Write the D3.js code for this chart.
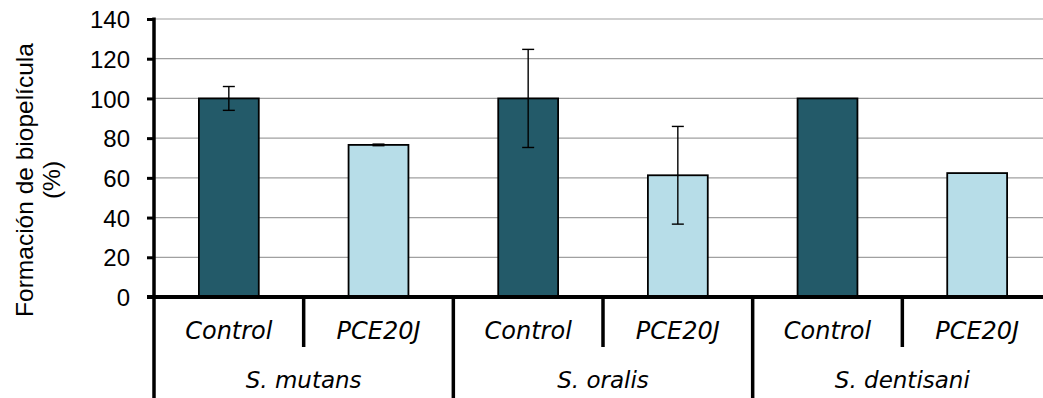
<!DOCTYPE html>
<html><head><meta charset="utf-8">
<script src="https://cdn.jsdelivr.net/npm/d3@7/dist/d3.min.js"></script>
<style>body{margin:0;background:#fff}svg{display:block}</style>
</head><body>
<script>
const species = ["S. mutans", "S. oralis", "S. dentisani"];
const treatments = ["Control", "PCE20J"];
const values = [100, 76.6, 100, 61.3, 100, 62.4];
const errors = [6, 0.4, 24.7, 24.6, 0, 0];
const yTicks = [0, 20, 40, 60, 80, 100, 120, 140];
const colors = ["#235a69", "#b7dde8"];

const W = 1043, H = 398;
const svg = d3.select("body").append("svg").attr("width", W).attr("height", H);
const x0 = 154, x1 = 1052;
const items = [];
species.forEach((s, i) => treatments.forEach((t, j) => items.push({s, t, i, j, k: i*2+j})));
const x = d3.scaleBand().domain(items.map(d => d.k)).range([x0, x1]).paddingInner(0).paddingOuter(0);
const y = d3.scaleLinear().domain([0, 140]).range([297, 19]);

// gridlines
svg.append("g").selectAll("line").data(yTicks.filter(v => v > 0)).join("line")
  .attr("x1", x0).attr("x2", x1).attr("y1", d => y(d)).attr("y2", d => y(d))
  .attr("stroke", "#a0a0a0").attr("stroke-width", 1.2);

// bars
const bw = x.bandwidth() * 0.4;
svg.append("g").selectAll("rect").data(items).join("rect")
  .attr("x", d => x(d.k) + (x.bandwidth() - bw) / 2)
  .attr("width", bw)
  .attr("y", d => y(values[d.k]))
  .attr("height", d => y(0) - y(values[d.k]))
  .attr("fill", d => colors[d.j]).attr("stroke", "#000").attr("stroke-width", 1.8);

// error bars
const eg = svg.append("g").attr("stroke", "#000").attr("stroke-width", 1.4);
items.filter(d => errors[d.k] > 0).forEach(d => {
  const cx = x(d.k) + x.bandwidth() / 2;
  const v = values[d.k], e = errors[d.k];
  eg.append("line").attr("x1", cx).attr("x2", cx).attr("y1", y(v + e)).attr("y2", y(v - e));
  [v + e, v - e].forEach(t => eg.append("line").attr("x1", cx - 6).attr("x2", cx + 6).attr("y1", y(t)).attr("y2", y(t)));
});

// y axis
const yAxis = d3.axisLeft(y).tickValues(yTicks).tickSize(7).tickPadding(17);
const ya = svg.append("g").attr("transform", `translate(${x0},0)`).call(yAxis);
ya.select(".domain").remove();
ya.selectAll(".tick line").attr("stroke", "#000").attr("stroke-width", 3);
ya.selectAll(".tick text").attr("font-family", "Liberation Sans, Arial, sans-serif").attr("font-size", 24).attr("fill", "#000").attr("dy", "0.36em");
svg.append("line").attr("x1", x0).attr("x2", x0).attr("y1", 17.5).attr("y2", H).attr("stroke", "#000").attr("stroke-width", 3.5);
// baseline
svg.append("line").attr("x1", 147).attr("x2", W).attr("y1", y(0)).attr("y2", y(0)).attr("stroke", "#000").attr("stroke-width", 4);

// category separators
items.forEach(d => {
  if (d.k === 0) return;
  const xx = x(d.k);
  svg.append("line").attr("x1", xx).attr("x2", xx).attr("y1", y(0)).attr("y2", d.j === 0 ? H : 347)
    .attr("stroke", "#000").attr("stroke-width", 3.5);
});

// treatment labels
svg.append("g").selectAll("text").data(items).join("text")
  .attr("x", d => x(d.k) + x.bandwidth() / 2).attr("y", 339)
  .attr("text-anchor", "middle").attr("font-family", "DejaVu Sans, sans-serif")
  .attr("font-style", "italic").attr("font-size", 24)
  .text(d => d.t);
// species labels
svg.append("g").selectAll("text").data(species).join("text")
  .attr("x", (d, i) => x(i*2) + x.bandwidth()).attr("y", 388)
  .attr("text-anchor", "middle").attr("font-family", "DejaVu Sans, sans-serif")
  .attr("font-style", "italic").attr("font-size", 23)
  .text(d => d);

// y title
const yt = svg.append("text").attr("transform", "translate(0,180) rotate(-90)")
  .attr("text-anchor", "middle").attr("font-family", "Liberation Sans, Arial, sans-serif").attr("font-size", 24.5);
yt.append("tspan").attr("x", 0).attr("y", 33).text("Formación de biopelícula");
yt.append("tspan").attr("x", 0).attr("y", 60).text("(%)");
</script>
</body></html>
